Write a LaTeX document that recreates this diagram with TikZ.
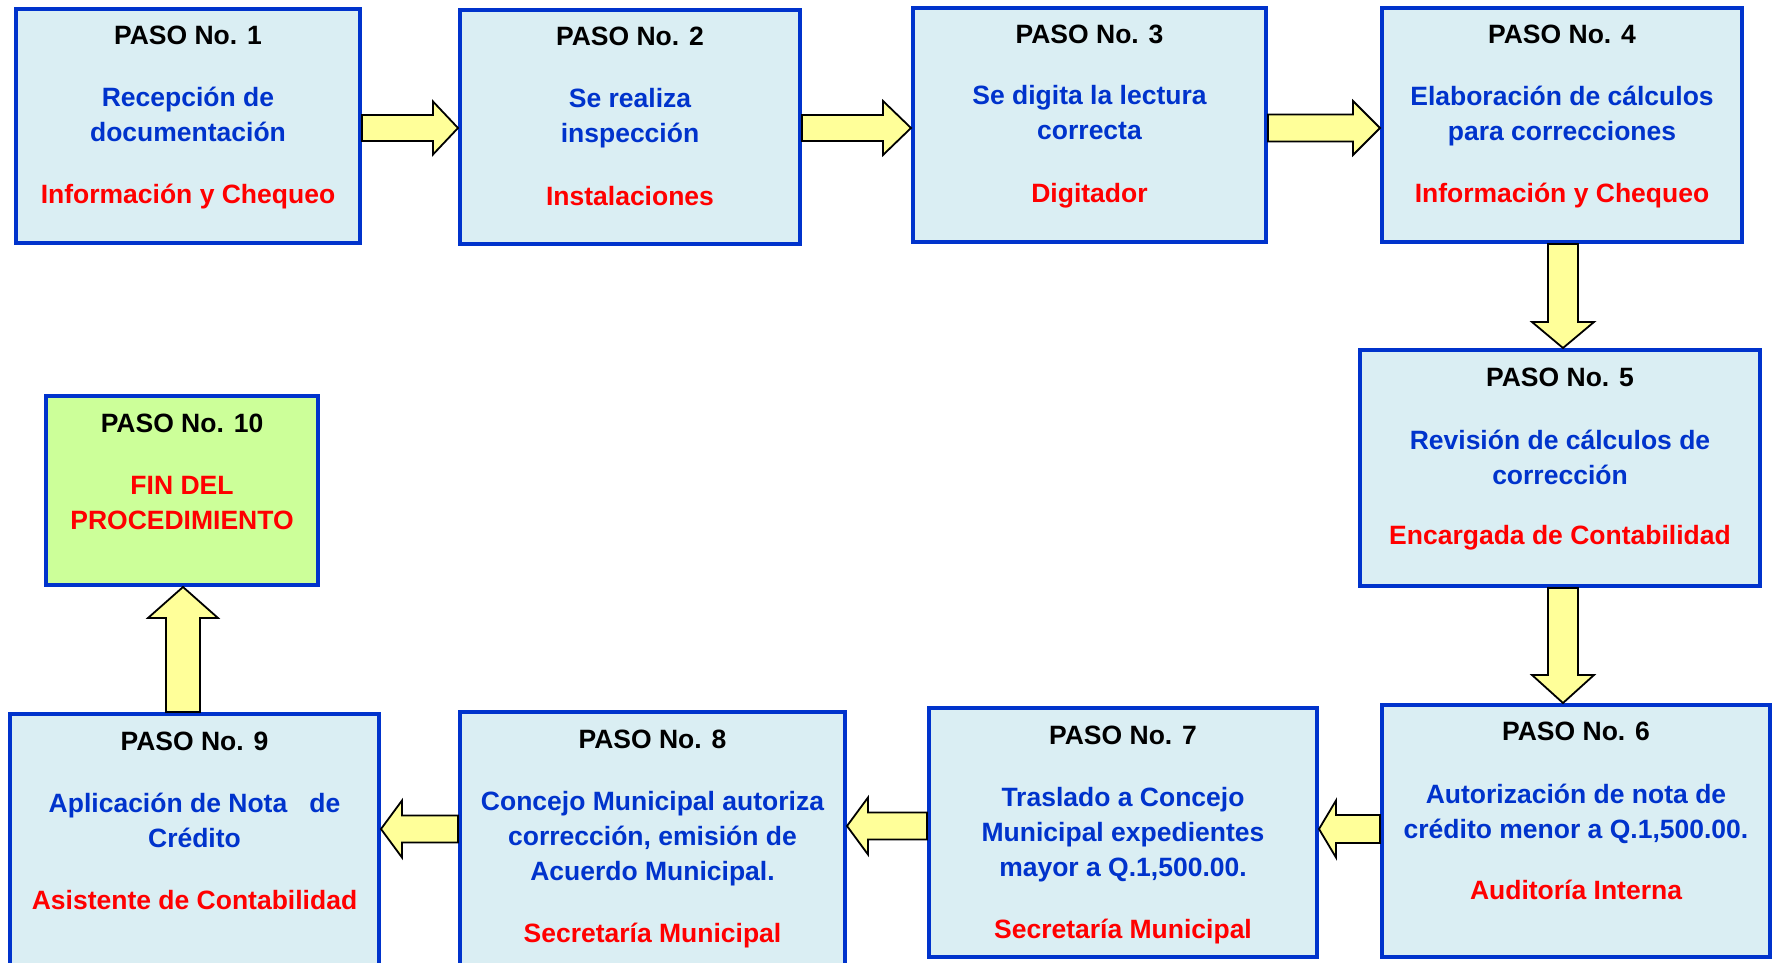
\documentclass[tikz,border=0pt]{standalone}
\usepackage{fontspec}
\setmainfont{Liberation Sans}
\usetikzlibrary{calc}
\definecolor{bordblue}{HTML}{0033CC}
\definecolor{txtblue}{HTML}{0033CC}
\definecolor{txtred}{HTML}{FF0000}
\definecolor{boxfill}{HTML}{DAEEF3}
\definecolor{endfill}{HTML}{CCFF99}
\definecolor{arrfill}{HTML}{FFFF99}
\tikzset{
  stepbox/.style={draw=bordblue, line width=4pt, fill=boxfill, rectangle, inner sep=0pt},
  endbox/.style={stepbox, fill=endfill},
  blockarrow/.style={draw=black, line width=1.8pt, fill=arrfill, line join=miter},
  ttl/.style={font=\fontsize{26.5}{35}\selectfont\bfseries, text=black, inner sep=0pt},
  bl/.style={font=\fontsize{26.5}{35}\selectfont\bfseries, text=txtblue, inner sep=0pt},
  rd/.style={font=\fontsize{26.5}{35}\selectfont\bfseries, text=txtred, inner sep=0pt},
}
% text line: style, name, box, offset below north, text
\newcommand\tline[5]{\node[#1, anchor=base] (#2) at ($(#3.north)+(0,-#4-3)$) {#5};}
% block arrows: from, to, position, shaft half, head half, head length
\newcommand\blockR[6]{\draw[blockarrow] let \p1=(#1.east), \p2=(#2.west) in
 (\x1,#3+#4) -- (\x2-#6,#3+#4) -- (\x2-#6,#3+#5) -- (\x2,#3) -- (\x2-#6,#3-#5) -- (\x2-#6,#3-#4) -- (\x1,#3-#4) -- cycle;}
\newcommand\blockL[6]{\draw[blockarrow] let \p1=(#1.west), \p2=(#2.east) in
 (\x1,#3+#4) -- (\x2+#6,#3+#4) -- (\x2+#6,#3+#5) -- (\x2,#3) -- (\x2+#6,#3-#5) -- (\x2+#6,#3-#4) -- (\x1,#3-#4) -- cycle;}
\newcommand\blockD[6]{\draw[blockarrow] let \p1=(#1.south), \p2=(#2.north) in
 (#3-#4,\y1) -- (#3-#4,\y2+#6) -- (#3-#5,\y2+#6) -- (#3,\y2) -- (#3+#5,\y2+#6) -- (#3+#4,\y2+#6) -- (#3+#4,\y1) -- cycle;}
\newcommand\blockU[6]{\draw[blockarrow] let \p1=(#1.north), \p2=(#2.south) in
 (#3-#4,\y1) -- (#3-#4,\y2-#6) -- (#3-#5,\y2-#6) -- (#3,\y2) -- (#3+#5,\y2-#6) -- (#3+#4,\y2-#6) -- (#3+#4,\y1) -- cycle;}
\begin{document}
\begin{tikzpicture}[x=1pt,y=1pt]
\useasboundingbox (0,0) rectangle (1773,-963);
\fill[white] (0,0) rectangle (1773,-963);
% boxes
\node[stepbox, minimum width=344pt, minimum height=234pt] (b1) at (188,-126) {};
\node[stepbox, minimum width=340pt, minimum height=234pt] (b2) at (630,-127) {};
\node[stepbox, minimum width=353pt, minimum height=234pt] (b3) at (1089.5,-125) {};
\node[stepbox, minimum width=360pt, minimum height=234pt] (b4) at (1562,-125) {};
\node[stepbox, minimum width=400pt, minimum height=236pt] (b5) at (1560,-468) {};
\node[stepbox, minimum width=388pt, minimum height=252pt] (b6) at (1576,-831) {};
\node[stepbox, minimum width=388pt, minimum height=249pt] (b7) at (1123,-832.5) {};
\node[stepbox, minimum width=385pt, minimum height=256pt] (b8) at (652.5,-840) {};
\node[stepbox, minimum width=369pt, minimum height=256pt] (b9) at (194.5,-842) {};
\node[endbox, minimum width=272pt, minimum height=189pt] (b10) at (182,-490.5) {};
% texts
\tline{ttl}{b1t}{b1}{35}{PASO No. 1}
\tline{bl}{b1a}{b1}{97}{Recepción de}
\tline{bl}{b1b}{b1}{132}{documentación}
\tline{rd}{b1c}{b1}{194}{Información y Chequeo}
\tline{ttl}{b2t}{b2}{35}{PASO No. 2}
\tline{bl}{b2a}{b2}{97}{Se realiza}
\tline{bl}{b2b}{b2}{132}{inspección}
\tline{rd}{b2c}{b2}{194}{Instalaciones}
\tline{ttl}{b3t}{b3}{35}{PASO No. 3}
\tline{bl}{b3a}{b3}{96}{Se digita la lectura}
\tline{bl}{b3b}{b3}{131}{correcta}
\tline{rd}{b3c}{b3}{194}{Digitador}
\tline{ttl}{b4t}{b4}{35}{PASO No. 4}
\tline{bl}{b4a}{b4}{97}{Elaboración de cálculos}
\tline{bl}{b4b}{b4}{132}{para correcciones}
\tline{rd}{b4c}{b4}{194}{Información y Chequeo}
\tline{ttl}{b5t}{b5}{35}{PASO No. 5}
\tline{bl}{b5a}{b5}{98}{Revisión de cálculos de}
\tline{bl}{b5b}{b5}{133}{corrección}
\tline{rd}{b5c}{b5}{193}{Encargada de Contabilidad}
\tline{ttl}{b6t}{b6}{34}{PASO No. 6}
\tline{bl}{b6a}{b6}{97}{Autorización de nota de}
\tline{bl}{b6b}{b6}{132}{crédito menor a Q.1,500.00.}
\tline{rd}{b6c}{b6}{193}{Auditoría Interna}
\tline{ttl}{b7t}{b7}{35}{PASO No. 7}
\tline{bl}{b7a}{b7}{97}{Traslado a Concejo}
\tline{bl}{b7b}{b7}{132}{Municipal expedientes}
\tline{bl}{b7c}{b7}{167}{mayor a Q.1,500.00.}
\tline{rd}{b7d}{b7}{229}{Secretaría Municipal}
\tline{ttl}{b8t}{b8}{35}{PASO No. 8}
\tline{bl}{b8a}{b8}{97}{Concejo Municipal autoriza}
\tline{bl}{b8b}{b8}{132}{corrección, emisión de}
\tline{bl}{b8c}{b8}{167}{Acuerdo Municipal.}
\tline{rd}{b8d}{b8}{229}{Secretaría Municipal}
\tline{ttl}{b9t}{b9}{35}{PASO No. 9}
\tline{bl}{b9a}{b9}{97}{Aplicación de Nota\ \ \ de}
\tline{bl}{b9b}{b9}{132}{Crédito}
\tline{rd}{b9c}{b9}{194}{Asistente de Contabilidad}
\tline{ttl}{b10t}{b10}{35}{PASO No. 10}
\tline{rd}{b10a}{b10}{97}{FIN DEL}
\tline{rd}{b10b}{b10}{132}{PROCEDIMIENTO}
% arrows
\blockR{b1}{b2}{-128}{13}{26.5}{25}
\blockR{b2}{b3}{-128}{13}{27}{28}
\blockR{b3}{b4}{-128}{13.5}{27}{27}
\blockD{b4}{b5}{1563}{15}{31}{26}
\blockD{b5}{b6}{1563}{15}{31}{28}
\blockL{b6}{b7}{-829}{14}{28.5}{17}
\blockL{b7}{b8}{-826}{13.5}{28.5}{21}
\blockL{b8}{b9}{-829}{13.5}{28.5}{21}
\blockU{b9}{b10}{183}{17}{35}{31}
\end{tikzpicture}
\end{document}
